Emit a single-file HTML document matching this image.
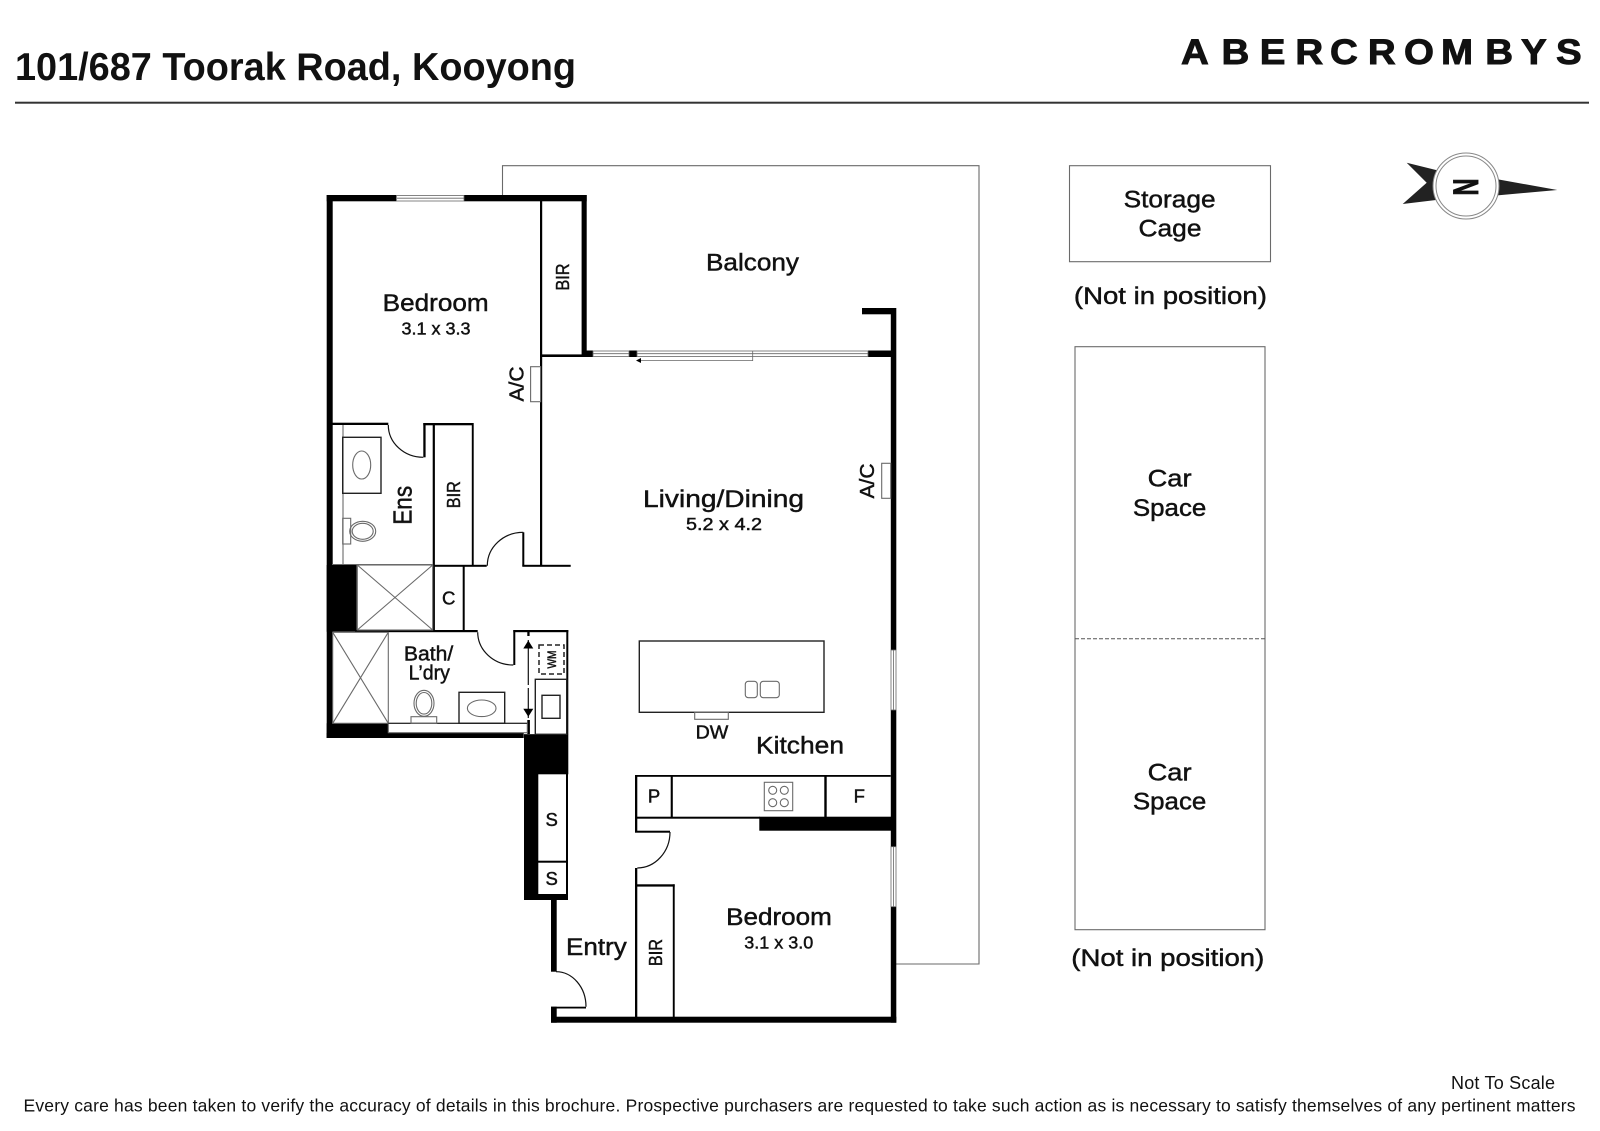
<!DOCTYPE html>
<html><head><meta charset="utf-8"><style>
html,body{margin:0;padding:0;background:#fff}
svg{display:block}
text{font-family:"Liberation Sans",sans-serif;fill:#111;text-anchor:middle;stroke:#111;stroke-width:.45}
.g{fill:none;stroke:#6a6a6a;stroke-width:1.1}
.d{fill:none;stroke:#222;stroke-width:1.4}
.t{fill:none;stroke:#111;stroke-width:1.2}
</style></head><body>
<svg width="1600" height="1131" viewBox="0 0 1600 1131" xmlns="http://www.w3.org/2000/svg">
<rect width="1600" height="1131" fill="#fff"/>
<text x="15" y="80" font-size="39" font-weight="bold" textLength="561" lengthAdjust="spacingAndGlyphs" style="text-anchor:start;stroke-width:0">101/687 Toorak Road, Kooyong</text>
<rect x="15" y="101.7" width="1574" height="2" fill="#333"/>
<text transform="scale(1.1 1)" y="64" font-size="35" font-weight="bold" x="1073.6 1110.5 1145.2 1177.6 1209.1 1243.5 1276.4 1310 1350.2 1382.7 1414.5" style="text-anchor:start;stroke-width:.9">ABERCROMBYS</text>

<!-- balcony -->
<path class="g" d="M502.5 195V165.7H979V964H896"/>
<rect class="g" x="1069.5" y="165.7" width="201" height="96"/>
<rect class="g" x="1075" y="346.7" width="190" height="583"/>
<line x1="1075" y1="638.8" x2="1265" y2="638.8" stroke="#555" stroke-dasharray="4 2"/>

<!-- heavy walls -->
<g fill="#000">
<rect x="326.7" y="195" width="69.7" height="6.3"/>
<rect x="464" y="195" width="122.7" height="6.3"/>
<rect x="581.6" y="195" width="5.1" height="162"/>
<rect x="326.7" y="195" width="6" height="543"/>
<rect x="540" y="201" width="2.2" height="365"/>
<rect x="541" y="354.4" width="41" height="2.6"/>
<rect x="582" y="350.5" width="11" height="6.5"/>
<rect x="629" y="350.5" width="8" height="6.5"/>
<rect x="868" y="350.5" width="24" height="6.5"/>
<rect x="862" y="308" width="34" height="6.3"/>
<rect x="890.8" y="308" width="5.5" height="342"/>
<rect x="890.8" y="710" width="5.5" height="136.7"/>
<rect x="890.8" y="906.7" width="5.5" height="116"/>
<rect x="551" y="1016.7" width="345.3" height="6"/>
<rect x="551" y="899" width="5.7" height="72.7"/>
<rect x="551" y="1006.7" width="5.7" height="16"/>
<rect x="551" y="1006.7" width="35" height="1.8"/>
<!-- black masses -->
<rect x="326.7" y="565" width="30" height="66.7"/>
<rect x="326.7" y="723.3" width="61.6" height="14.7"/>
<rect x="326.7" y="733" width="197" height="5"/>
<rect x="524" y="734.3" width="44.3" height="40"/>
<rect x="524" y="734.3" width="14.3" height="165.7"/>
<rect x="524" y="894" width="44" height="6"/>
<rect x="538" y="860.7" width="29" height="2"/>
<rect x="566" y="774" width="2" height="126"/>
<!-- ensuite walls -->
<rect x="332" y="422.7" width="56.3" height="2.3"/>
<rect x="423.3" y="423" width="50" height="2.3"/>
<rect x="423.3" y="423" width="2.3" height="34.3"/>
<rect x="432.7" y="423" width="2.2" height="207.5"/>
<rect x="471.8" y="423" width="1.9" height="142.7"/>
<rect x="432.7" y="564.8" width="54" height="2"/>
<rect x="522.3" y="532.3" width="2" height="33.4"/>
<rect x="522.3" y="564.8" width="48.4" height="2"/>
<rect x="462.7" y="566" width="2" height="64.5"/>
<rect x="355" y="630" width="122.7" height="2.2"/>
<rect x="513.3" y="630" width="55" height="2.2"/>
<rect x="513.3" y="630" width="2" height="35"/>
<rect x="566.3" y="630" width="2" height="104.5"/>
<rect x="527.3" y="630" width="2.3" height="6"/>
<rect x="527.3" y="720" width="2.6" height="14"/>
<!-- kitchen -->
<rect x="635" y="775" width="255.7" height="1.8"/>
<rect x="635" y="775" width="2.3" height="56.7"/>
<rect x="670.7" y="775" width="2.1" height="42"/>
<rect x="635" y="816.7" width="125" height="2"/>
<rect x="824.3" y="775" width="2.4" height="42"/>
<rect x="759.3" y="816.7" width="133" height="14"/>
<rect x="635" y="830.7" width="35" height="2"/>
<rect x="635" y="868" width="2.3" height="150"/>
<rect x="635" y="884.3" width="39.7" height="2.3"/>
<rect x="672.8" y="884.3" width="1.9" height="133"/>
</g>

<!-- windows -->
<g fill="#fff" stroke="#666" stroke-width=".8">
<rect x="396.4" y="195.5" width="67.6" height="5.5"/>
<rect x="593" y="351" width="36" height="5.5"/>
<rect x="637" y="351" width="231" height="5.5"/>
<rect x="891" y="650" width="5" height="60"/>
<rect x="891" y="846.7" width="5" height="60"/>
</g>
<g stroke="#666" stroke-width=".8">
<line x1="397" y1="198.2" x2="464" y2="198.2"/>
<line x1="593" y1="353.7" x2="629" y2="353.7"/>
<line x1="637" y1="353.7" x2="868" y2="353.7"/>
<line x1="893.5" y1="650" x2="893.5" y2="710"/>
<line x1="893.5" y1="846.7" x2="893.5" y2="906.7"/>
<line x1="752.7" y1="351" x2="752.7" y2="361"/>
<line x1="637" y1="360.5" x2="752.7" y2="360.5"/>
</g>
<path d="M636 360.5l5-2.5v5z" fill="#000"/>

<!-- AC -->
<rect class="g" x="530.6" y="366.7" width="10" height="35"/>
<rect class="g" x="881.7" y="463.3" width="9" height="35"/>

<!-- door arcs -->
<g class="t" fill="none" stroke="#111" stroke-width="1.1">
<path fill="none" d="M388.3 425A35 32.3 0 0 0 423.3 457.3"/>
<path fill="none" d="M487.3 565.7A36 33.4 0 0 1 523.3 532.3"/>
<path fill="none" d="M477.7 632.2A35.6 33 0 0 0 513.3 665"/>
<path fill="none" d="M670 832A33 36 0 0 1 637.3 868"/>
<path fill="none" d="M556 971.7A30 35 0 0 1 586 1006.7"/>
</g>

<!-- ensuite fixtures -->
<path class="g" d="M343 425V565M332 564.5H432.7"/>
<rect class="d" x="342.7" y="437.3" width="38.3" height="56"/>
<ellipse class="g" cx="361.7" cy="465" rx="9" ry="14"/>
<rect class="g" x="342.7" y="518.3" width="8" height="25.7"/>
<ellipse class="g" cx="362.7" cy="531.3" rx="13" ry="10"/>
<ellipse class="g" cx="362.7" cy="531.3" rx="10.5" ry="8"/>

<!-- showers -->
<rect class="g" x="357.3" y="565" width="75.4" height="65"/>
<path class="g" d="M357.3 630L432.7 565M357.3 565L432.7 630"/>
<rect class="g" x="332.7" y="632.3" width="55.6" height="91"/>
<path class="g" d="M332.7 723.3L388.3 632.3M332.7 632.3L388.3 723.3"/>

<!-- bath -->
<rect class="g" x="388.3" y="723.3" width="139" height="9.4"/>
<line x1="388.3" y1="723.3" x2="527.3" y2="723.3" stroke="#222" stroke-width="1.2"/>
<rect class="d" x="459" y="692.3" width="45.7" height="31"/>
<ellipse class="g" cx="481.7" cy="708.3" rx="14.3" ry="8.3"/>
<ellipse class="g" cx="424" cy="703.3" rx="10" ry="13"/>
<ellipse class="g" cx="424" cy="703.3" rx="7.8" ry="10.8"/>
<rect class="g" x="411" y="716.7" width="25.7" height="6.6"/>
<line x1="528.3" y1="640" x2="528.3" y2="720" stroke="#111" stroke-width="1.2" stroke-dasharray="45 3 30"/>
<path d="M528.3 640.5l-5 8h10zM528.3 716.7l-5-8h10z" fill="#000"/>
<rect x="539" y="645" width="25" height="29" fill="none" stroke="#222" stroke-width="1.5" stroke-dasharray="5 3"/>
<rect class="d" x="535.3" y="679.3" width="31.4" height="55"/>
<rect class="d" x="542" y="695.3" width="18" height="23"/>

<!-- kitchen fixtures -->
<rect class="d" x="639.3" y="641" width="184.7" height="71.3"/>
<rect class="g" x="745.3" y="681.3" width="12" height="16.4" rx="3"/>
<rect class="g" x="760.3" y="681.3" width="19" height="16.4" rx="3"/>
<rect class="g" x="694.7" y="712.3" width="33.6" height="7"/>
<rect class="g" x="764.3" y="782.3" width="28.4" height="28.4"/>
<g class="g"><circle cx="772.7" cy="790.3" r="4"/><circle cx="784.3" cy="790.3" r="4"/><circle cx="772.7" cy="802.7" r="4"/><circle cx="784.3" cy="802.7" r="4"/></g>

<!-- compass -->
<path d="M1406.7 162.7L1440 171L1436 200L1402.7 204L1426.7 182.7Z" fill="#222"/>
<path d="M1496 179L1557.3 190L1496 195.5Z" fill="#222"/>
<circle cx="1466" cy="186" r="33" fill="#fff" stroke="#888" stroke-width="1"/>
<circle cx="1466" cy="186" r="30" fill="#fff" stroke="#888" stroke-width="1"/>
<text transform="translate(1453.5 178.5) rotate(90)" font-size="35" font-weight="bold" textLength="17" lengthAdjust="spacingAndGlyphs" style="text-anchor:start;stroke-width:.9">N</text>

<!-- labels -->
<g>
<text x="435.7" y="311" font-size="24.5" textLength="106" lengthAdjust="spacingAndGlyphs">Bedroom</text>
<text x="436" y="334.3" font-size="17.5" textLength="69" lengthAdjust="spacingAndGlyphs">3.1 x 3.3</text>
<text x="752.5" y="270.7" font-size="24.5" textLength="93" lengthAdjust="spacingAndGlyphs">Balcony</text>
<text transform="translate(569 277) rotate(-90)" font-size="18" textLength="27" lengthAdjust="spacingAndGlyphs">BIR</text>
<text transform="translate(523.5 384) rotate(-90)" font-size="20" textLength="35" lengthAdjust="spacingAndGlyphs">A/C</text>
<text transform="translate(874 481) rotate(-90)" font-size="20" textLength="35" lengthAdjust="spacingAndGlyphs">A/C</text>
<text x="723.5" y="507" font-size="24.5" textLength="161" lengthAdjust="spacingAndGlyphs">Living/Dining</text>
<text x="724" y="530" font-size="17.5" textLength="76" lengthAdjust="spacingAndGlyphs">5.2 x 4.2</text>
<text transform="translate(411.5 505.3) rotate(-90)" font-size="26" textLength="39" lengthAdjust="spacingAndGlyphs">Ens</text>
<text transform="translate(460 494.7) rotate(-90)" font-size="18" textLength="27" lengthAdjust="spacingAndGlyphs">BIR</text>
<text x="448.7" y="604.5" font-size="18.5">C</text>
<text x="428.6" y="660.7" font-size="20" textLength="49.3" lengthAdjust="spacingAndGlyphs">Bath/</text>
<text x="429.3" y="679.3" font-size="20" textLength="41.3" lengthAdjust="spacingAndGlyphs">L’dry</text>
<text transform="translate(556 659.5) rotate(-90)" font-size="12" textLength="18" lengthAdjust="spacingAndGlyphs">WM</text>
<text x="712" y="738.3" font-size="18.3" textLength="32.7" lengthAdjust="spacingAndGlyphs">DW</text>
<text x="800" y="753.3" font-size="24.5" textLength="88" lengthAdjust="spacingAndGlyphs">Kitchen</text>
<text x="654" y="802.3" font-size="18.5">P</text>
<text x="859.3" y="802.3" font-size="18.5">F</text>
<text x="551.7" y="826" font-size="18.5">S</text>
<text x="551.7" y="885" font-size="18.5">S</text>
<text x="596.4" y="955" font-size="24.5" textLength="60.7" lengthAdjust="spacingAndGlyphs">Entry</text>
<text x="779" y="925" font-size="24.5" textLength="105.7" lengthAdjust="spacingAndGlyphs">Bedroom</text>
<text x="778.8" y="948.3" font-size="17.5" textLength="69" lengthAdjust="spacingAndGlyphs">3.1 x 3.0</text>
<text transform="translate(662 952.6) rotate(-90)" font-size="18" textLength="27" lengthAdjust="spacingAndGlyphs">BIR</text>
<text x="1169.6" y="207.3" font-size="24.5" textLength="92" lengthAdjust="spacingAndGlyphs">Storage</text>
<text x="1170" y="236.7" font-size="24.5" textLength="63" lengthAdjust="spacingAndGlyphs">Cage</text>
<text x="1170.4" y="304" font-size="24.5" textLength="193" lengthAdjust="spacingAndGlyphs">(Not in position)</text>
<text x="1169.6" y="486.7" font-size="24.5" textLength="44" lengthAdjust="spacingAndGlyphs">Car</text>
<text x="1169.6" y="516" font-size="24.5" textLength="73.5" lengthAdjust="spacingAndGlyphs">Space</text>
<text x="1169.6" y="780.6" font-size="24.5" textLength="44" lengthAdjust="spacingAndGlyphs">Car</text>
<text x="1169.6" y="809.6" font-size="24.5" textLength="73.5" lengthAdjust="spacingAndGlyphs">Space</text>
<text x="1167.8" y="966" font-size="24.5" textLength="193" lengthAdjust="spacingAndGlyphs">(Not in position)</text>
</g>
<text x="1503" y="1089" font-size="18" textLength="104" style="stroke-width:0">Not To Scale</text>
<text x="799.5" y="1111.5" font-size="17.5" textLength="1552" style="stroke-width:0">Every care has been taken to verify the accuracy of details in this brochure. Prospective purchasers are requested to take such action as is necessary to satisfy themselves of any pertinent matters</text>
</svg>
</body></html>
